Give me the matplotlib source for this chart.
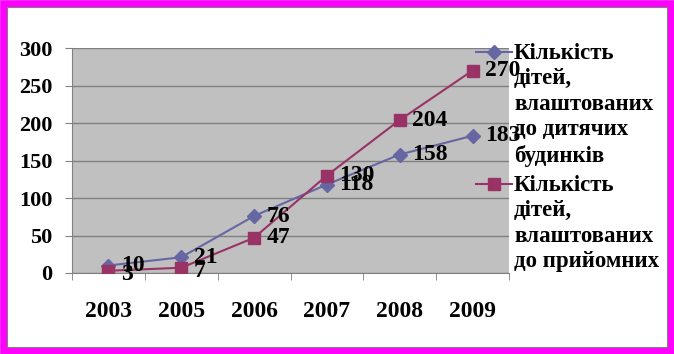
import matplotlib
matplotlib.use("Agg")
import matplotlib.pyplot as plt
from matplotlib.patches import Rectangle
from matplotlib.lines import Line2D

years = ["2003", "2005", "2006", "2007", "2008", "2009"]
s1_values = [10, 21, 76, 118, 158, 183]
s2_values = [3, 7, 47, 130, 204, 270]
s1_label = "Кількість\nдітей,\nвлаштованих\nдо дитячих\nбудинків"
s2_label = "Кількість\nдітей,\nвлаштованих\nдо прийомних"
yticks = [0, 50, 100, 150, 200, 250, 300]

W, H = 674, 354
fig = plt.figure(figsize=(W / 100, H / 100), dpi=100)
fig.patch.set_facecolor("white")
plt.rcParams["font.family"] = ["Liberation Serif", "DejaVu Serif"]

# border
fig.add_artist(Rectangle((3.5 / W, 3.5 / H), 1 - 7 / W, 1 - 7 / H, transform=fig.transFigure,
                         fill=False, edgecolor="#FF00FF", linewidth=5.5))
fig.add_artist(Rectangle((7 / W, 7 / H), 1 - 14 / W, 1 - 14 / H, transform=fig.transFigure,
                         fill=False, edgecolor="#808080", linewidth=0.8))

left, right, top, bottom = 72, 509, 48, 273
ax = fig.add_axes([left / W, 1 - bottom / H, (right - left) / W, (bottom - top) / H])
ax.set_facecolor("#C0C0C0")
x = list(range(len(years)))
c1, c2 = "#6666A3", "#993366"
ax.plot(x, s1_values, color=c1, marker="D", markersize=7, linewidth=1.5, zorder=3)
ax.plot(x, s2_values, color=c2, marker="s", markersize=9, linewidth=1.5, zorder=4)
ax.set_xlim(-0.5, len(years) - 0.5)
ax.set_ylim(0, 300)
ax.set_yticks(yticks)
ax.set_yticklabels([str(v) for v in yticks], fontsize=16, fontweight="bold")
ax.set_xticks(x)
ax.set_xticklabels(years, fontsize=17, fontweight="bold")
ax.set_xticks([i - 0.5 for i in range(len(years) + 1)], minor=True)
ax.tick_params(axis="x", which="major", length=0, pad=20)
ax.tick_params(axis="x", which="minor", length=5, color="#808080")
ax.tick_params(axis="y", length=5, color="#808080", pad=9)
ax.yaxis.grid(True, color="#808080", linewidth=1)
ax.set_axisbelow(True)
for s in ["top", "right"]:
    ax.spines[s].set_visible(False)
for s in ["left", "bottom"]:
    ax.spines[s].set_color("#808080")

for xi, v in zip(x, s1_values):
    ax.annotate(str(v), (xi, v), xytext=(9, 0), textcoords="offset points",
                ha="left", va="center", fontsize=17, fontweight="bold", zorder=5)
for xi, v in zip(x, s2_values):
    ax.annotate(str(v), (xi, v), xytext=(9, -3 if v < 10 else 0), textcoords="offset points",
                ha="left", va="center", fontsize=17, fontweight="bold", zorder=5)

# legend
for lab, col, mk, ms, ly in [(s1_label, c1, "D", 7, 52), (s2_label, c2, "s", 9, 184)]:
    fig.add_artist(Line2D([476 / W, 512 / W], [1 - ly / H, 1 - ly / H], transform=fig.transFigure,
                          color=col, linewidth=1.5))
    fig.add_artist(Line2D([494 / W], [1 - ly / H], transform=fig.transFigure,
                          color=col, marker=mk, markersize=ms))
    fig.text(514 / W, 1 - (ly - 9) / H, lab, fontsize=16.5, fontweight="bold",
             ha="left", va="top", linespacing=1.27)

fig.savefig("out.png", dpi=100)
